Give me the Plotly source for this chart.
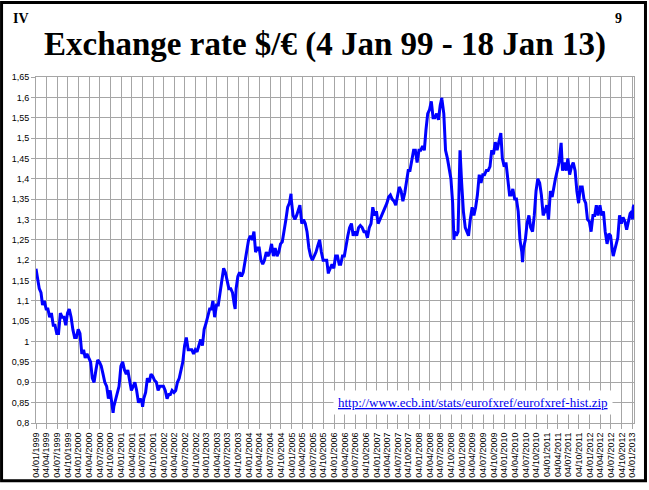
import plotly.graph_objects as go

# Semi-monthly readings (1st and 16th of each month), USD per EUR
r1999 = [1.179, 1.16, 1.13, 1.12, 1.09, 1.10, 1.08, 1.08, 1.06, 1.07, 1.04, 1.04,
         1.02, 1.02, 1.07, 1.06, 1.06, 1.04, 1.07, 1.08, 1.06, 1.03, 1.01, 1.01]
r2000 = [1.03, 1.02, 0.97, 0.98, 0.96, 0.97, 0.96, 0.95, 0.91, 0.90, 0.93, 0.955,
         0.95, 0.94, 0.92, 0.90, 0.89, 0.86, 0.88, 0.85, 0.84, 0.855, 0.87, 0.89]
r2001 = [0.94, 0.95, 0.93, 0.92, 0.93, 0.90, 0.88, 0.89, 0.90, 0.88, 0.85, 0.86,
         0.85, 0.86, 0.875, 0.91, 0.90, 0.92, 0.915, 0.905, 0.90, 0.88, 0.89, 0.89]
r2002 = [0.89, 0.88, 0.86, 0.87, 0.87, 0.88, 0.875, 0.88, 0.90, 0.91, 0.93, 0.95,
         0.99, 1.01, 0.98, 0.98, 0.98, 0.97, 0.98, 0.975, 0.99, 1.005, 0.99, 1.03]
r2003 = [1.045, 1.06, 1.08, 1.08, 1.10, 1.06, 1.09, 1.09, 1.12, 1.15, 1.18, 1.17,
         1.15, 1.13, 1.13, 1.12, 1.09, 1.13, 1.16, 1.17, 1.16, 1.17, 1.20, 1.23]
r2004 = [1.25, 1.26, 1.25, 1.27, 1.22, 1.23, 1.23, 1.20, 1.19, 1.20, 1.22, 1.21,
         1.22, 1.24, 1.21, 1.23, 1.21, 1.22, 1.24, 1.245, 1.27, 1.30, 1.33, 1.34]
r2005 = [1.35, 1.31, 1.30, 1.31, 1.32, 1.335, 1.29, 1.30, 1.29, 1.27, 1.23, 1.21,
         1.20, 1.21, 1.22, 1.235, 1.25, 1.22, 1.20, 1.20, 1.20, 1.17, 1.18, 1.19]
r2006 = [1.18, 1.21, 1.21, 1.19, 1.19, 1.21, 1.21, 1.24, 1.26, 1.28, 1.29, 1.26,
         1.27, 1.26, 1.28, 1.285, 1.28, 1.27, 1.27, 1.255, 1.28, 1.29, 1.33, 1.31]
r2007 = [1.32, 1.29, 1.30, 1.31, 1.32, 1.33, 1.34, 1.355, 1.36, 1.35, 1.345, 1.335,
         1.355, 1.38, 1.37, 1.345, 1.365, 1.39, 1.42, 1.42, 1.445, 1.47, 1.47, 1.44]
r2008 = [1.47, 1.47, 1.48, 1.47, 1.52, 1.56, 1.57, 1.59, 1.55, 1.55, 1.56, 1.545,
         1.58, 1.595, 1.56, 1.47, 1.45, 1.42, 1.40, 1.34, 1.27, 1.26, 1.27, 1.40]
r2009 = [1.39, 1.32, 1.28, 1.27, 1.26, 1.30, 1.33, 1.31, 1.33, 1.36, 1.41, 1.39,
         1.41, 1.41, 1.42, 1.42, 1.43, 1.47, 1.46, 1.49, 1.47, 1.49, 1.51, 1.45]
r2010 = [1.43, 1.44, 1.39, 1.36, 1.36, 1.375, 1.35, 1.35, 1.32, 1.25, 1.22, 1.23,
         1.25, 1.29, 1.31, 1.28, 1.27, 1.31, 1.37, 1.40, 1.39, 1.36, 1.31, 1.32]
r2011 = [1.335, 1.30, 1.37, 1.355, 1.38, 1.40, 1.42, 1.44, 1.48, 1.42, 1.44, 1.42,
         1.45, 1.41, 1.43, 1.44, 1.42, 1.37, 1.34, 1.38, 1.38, 1.35, 1.34, 1.30]
r2012 = [1.295, 1.27, 1.31, 1.31, 1.335, 1.31, 1.335, 1.31, 1.32, 1.27, 1.24, 1.265,
         1.26, 1.225, 1.22, 1.235, 1.255, 1.31, 1.29, 1.305, 1.295, 1.275, 1.30, 1.315]
dates2013 = ["2013-01-01", "2013-01-04", "2013-01-11", "2013-01-18"]
r2013 = [1.32, 1.30, 1.33, 1.336]

# Local extremes
extra_dates = ["2000-10-26", "2001-07-06", "2003-09-08", "2004-12-30", "2005-11-15",
               "2008-07-15", "2008-10-27", "2008-12-18", "2009-12-03", "2010-06-07",
               "2011-05-04", "2012-07-24"]
extra_rates = [0.825, 0.84, 1.08, 1.363, 1.167,
               1.599, 1.25, 1.47, 1.512, 1.195,
               1.488, 1.21]

y_tick_vals = [0.8, 0.85, 0.9, 0.95, 1.0, 1.05, 1.1, 1.15, 1.2, 1.25, 1.3, 1.35,
               1.4, 1.45, 1.5, 1.55, 1.6, 1.65]
y_tick_text = ["0,8", "0,85", "0,9", "0,95", "1", "1,05", "1,1", "1,15", "1,2", "1,25",
               "1,3", "1,35", "1,4", "1,45", "1,5", "1,55", "1,6", "1,65"]

title_text = "Exchange rate $/€ (4 Jan 99 - 18 Jan 13)"
source_text = "http://www.ecb.int/stats/eurofxref/eurofxref-hist.zip"

# ---- assemble series ----
yearly = [r1999, r2000, r2001, r2002, r2003, r2004, r2005, r2006, r2007, r2008,
          r2009, r2010, r2011, r2012]
pairs = []
for i, vals in enumerate(yearly):
    year = 1999 + i
    k = 0
    for m in range(1, 13):
        for d in (1, 16):
            ds = f"{year}-{m:02d}-{d:02d}"
            if ds == "1999-01-01":
                ds = "1999-01-04"
            pairs.append((ds, vals[k]))
            k += 1
pairs += list(zip(dates2013, r2013))
pairs += list(zip(extra_dates, extra_rates))
pairs.sort(key=lambda p: p[0])
xs = [p[0] for p in pairs]
ys = [p[1] for p in pairs]

W, H = 649, 490
L, R, T, B = 36, 14, 77, 62
pw, ph = W - L - R, H - T - B

def px(x):
    return (x - L) / pw

def py(y):
    return (H - B - y) / ph

fig = go.Figure()
fig.add_trace(go.Scatter(x=xs, y=ys, mode="lines",
                         line=dict(color="#0000FF", width=3),
                         hoverinfo="skip", showlegend=False))

grid = "#a6a6a6"
fig.update_layout(
    width=W, height=H,
    margin=dict(l=L, r=R, t=T, b=B),
    paper_bgcolor="white", plot_bgcolor="white",
    showlegend=False,
    xaxis=dict(type="date", range=["1999-01-04", "2013-01-18"],
               tick0="1999-01-04", dtick="M3", tickformat="%d/%m/%Y",
               tickangle=-90, showgrid=True, gridcolor=grid, gridwidth=1,
               ticks="outside", ticklen=5, tickcolor=grid,
               showline=True, linecolor=grid, mirror=True,
               tickfont=dict(family="Liberation Sans, Arial", size=9, color="black"),
               zeroline=False, fixedrange=True),
    yaxis=dict(range=[0.8, 1.65], tickvals=y_tick_vals, ticktext=y_tick_text,
               showgrid=True, gridcolor=grid, gridwidth=1,
               ticks="outside", ticklen=4, tickcolor=grid,
               showline=True, linecolor=grid, mirror=True,
               tickfont=dict(family="Liberation Sans, Arial", size=9, color="black"),
               zeroline=False, fixedrange=True),
)

fig.add_annotation(x=px(325), y=py(44), xref="paper", yref="paper",
                   text="<b>" + title_text + "</b>", showarrow=False,
                   xanchor="center", yanchor="middle",
                   font=dict(family="Liberation Serif, Times New Roman", size=33, color="black"))
fig.add_annotation(x=px(21), y=py(18), xref="paper", yref="paper",
                   text="<b>IV</b>", showarrow=False, xanchor="center", yanchor="middle",
                   font=dict(family="Liberation Serif, Times New Roman", size=14, color="black"))
fig.add_annotation(x=px(619), y=py(18), xref="paper", yref="paper",
                   text="<b>9</b>", showarrow=False, xanchor="center", yanchor="middle",
                   font=dict(family="Liberation Serif, Times New Roman", size=14, color="black"))
fig.add_annotation(x=px(474), y=py(407), xref="paper", yref="paper",
                   text=source_text, showarrow=False, xanchor="center", yanchor="middle",
                   bgcolor="white", borderpad=4,
                   font=dict(family="Liberation Serif, Times New Roman", size=13,
                             color="#0000EE", lineposition="under"))

fig.add_shape(type="rect", xref="paper", yref="paper",
              x0=px(1.5), x1=px(646.5), y0=py(486.5), y1=py(1.5),
              line=dict(color="black", width=3), fillcolor="rgba(0,0,0,0)", layer="above")

fig.write_html("out.html", config={"displayModeBar": False},
               post_script="document.body.style.margin='0';document.body.style.padding='0';")
